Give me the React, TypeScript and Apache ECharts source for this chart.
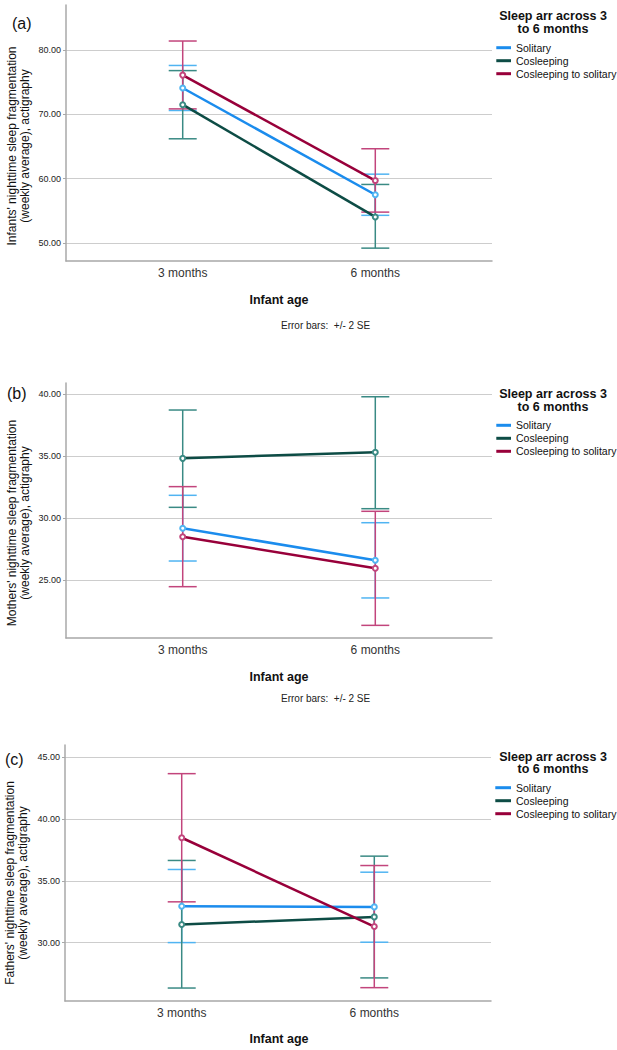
import React, { useEffect, useRef } from "react";
import * as echarts from "echarts";

// ---- data ----
const categories = ["3 months", "6 months"];
const xPositions = [1, 2];
const groupNames = ["Solitary", "Cosleeping", "Cosleeping to solitary"];

// (a) Infants
const infantSolitary = [74.1, 57.5];
const infantSolitaryLow = [70.6, 54.3];
const infantSolitaryHigh = [77.6, 60.7];
const infantCosleeping = [71.5, 54.05];
const infantCosleepingLow = [66.2, 49.2];
const infantCosleepingHigh = [76.8, 59.1];
const infantCoToSol = [76.1, 59.7];
const infantCoToSolLow = [70.85, 54.8];
const infantCoToSolHigh = [81.4, 64.65];
const infantTicks = [50, 60, 70, 80];

// (b) Mothers
const motherSolitary = [29.17, 26.59];
const motherSolitaryLow = [26.53, 23.55];
const motherSolitaryHigh = [31.83, 29.62];
const motherCosleeping = [34.81, 35.3];
const motherCosleepingLow = [30.86, 30.75];
const motherCosleepingHigh = [38.71, 39.78];
const motherCoToSol = [28.49, 25.94];
const motherCoToSolLow = [24.46, 21.34];
const motherCoToSolHigh = [32.53, 30.54];
const motherTicks = [25, 30, 35, 40];

// (c) Fathers
const fatherSolitary = [32.95, 32.89];
const fatherSolitaryLow = [30.0, 30.03];
const fatherSolitaryHigh = [35.92, 35.7];
const fatherCosleeping = [31.46, 32.08];
const fatherCosleepingLow = [26.32, 27.14];
const fatherCosleepingHigh = [36.65, 37.0];
const fatherCoToSol = [38.49, 31.3];
const fatherCoToSolLow = [33.3, 26.35];
const fatherCoToSolHigh = [43.68, 36.24];
const fatherTicks = [30, 35, 40, 45];

// ---- styles ----
const lineColors = ["#1b8ced", "#0d4c45", "#98003a"];
const barColors = ["#50b4f2", "#3a8a84", "#c2457c"];
const FONT = "'Liberation Sans', Arial, sans-serif";
const AXIS_COLOR = "#a8a8a8";
const GRID_COLOR = "#cdcdcd";

const panels = [
  {
    label: "(a)",
    labelPos: [12, 23],
    top: 5,
    bottom: 261,
    left: 66,
    right: 492,
    yMin: 47.2,
    yMax: 87.0,
    ticks: infantTicks,
    means: [infantSolitary, infantCosleeping, infantCoToSol],
    lows: [infantSolitaryLow, infantCosleepingLow, infantCoToSolLow],
    highs: [infantSolitaryHigh, infantCosleepingHigh, infantCoToSolHigh],
    yTitle: "Infants' nighttime sleep fragmentation\n(weekly average), actigraphy",
    yTitlePos: [18.5, 146],
    legendTitleY: 22.3,
    legendTop: 41.2,
    xTitleY: 300,
    noteY: 325.5,
  },
  {
    label: "(b)",
    labelPos: [7, 393],
    top: 383,
    bottom: 638,
    left: 66,
    right: 492,
    yMin: 20.32,
    yMax: 40.89,
    ticks: motherTicks,
    means: [motherSolitary, motherCosleeping, motherCoToSol],
    lows: [motherSolitaryLow, motherCosleepingLow, motherCoToSolLow],
    highs: [motherSolitaryHigh, motherCosleepingHigh, motherCoToSolHigh],
    yTitle: "Mothers' nighttime sleep fragmentation\n(weekly average), actigraphy",
    yTitlePos: [18.5, 523],
    legendTitleY: 400.3,
    legendTop: 418.8,
    xTitleY: 677,
    noteY: 698,
  },
  {
    label: "(c)",
    labelPos: [5, 759],
    top: 745,
    bottom: 1001,
    left: 65,
    right: 491,
    yMin: 25.27,
    yMax: 46.0,
    ticks: fatherTicks,
    means: [fatherSolitary, fatherCosleeping, fatherCoToSol],
    lows: [fatherSolitaryLow, fatherCosleepingLow, fatherCoToSolLow],
    highs: [fatherSolitaryHigh, fatherCosleepingHigh, fatherCoToSolHigh],
    yTitle: "Fathers' nighttime sleep fragmentation\n(weekly average), actigraphy",
    yTitlePos: [16.5, 883],
    legendTitleY: 762.9,
    legendTop: 781.2,
    xTitleY: 1039,
    noteY: null as number | null,
  },
];

const W = 617;
const H = 1050;

function buildOption() {
  const grid: any[] = [];
  const xAxis: any[] = [];
  const yAxis: any[] = [];
  const series: any[] = [];
  const legend: any[] = [];
  const graphic: any[] = [];

  panels.forEach((p, pi) => {
    grid.push({
      show: false,
      left: p.left,
      top: p.top,
      width: p.right - p.left,
      height: p.bottom - p.top,
      containLabel: false,
    });
    xAxis.push({
      type: "value",
      gridIndex: pi,
      min: 0.394,
      max: 2.606,
      axisLine: { show: true, onZero: false, lineStyle: { color: AXIS_COLOR, width: 1.5 } },
      axisTick: { show: false },
      splitLine: { show: false },
      axisLabel: {
        customValues: xPositions,
        formatter: (v: number) => categories[xPositions.indexOf(Math.round(v))] ?? "",
        fontFamily: FONT,
        fontSize: 12,
        color: "#333",
        margin: 6,
      },
    });
    yAxis.push({
      type: "value",
      gridIndex: pi,
      position: "left",
      min: p.yMin,
      max: p.yMax,
      axisLine: { show: true, onZero: false, lineStyle: { color: AXIS_COLOR, width: 1.5 } },
      axisTick: { show: true, customValues: p.ticks, length: 3, lineStyle: { color: AXIS_COLOR } },
      splitLine: { show: true, lineStyle: { color: GRID_COLOR, width: 1, type: "solid" } },
      axisLabel: {
        customValues: p.ticks,
        formatter: (v: number) => v.toFixed(2),
        fontFamily: FONT,
        fontSize: 9,
        color: "#222",
        margin: 5,
      },
    });

    // error bars (+/- 2 SE)
    groupNames.forEach((g, gi) => {
      series.push({
        type: "custom",
        name: g + " SE " + pi,
        xAxisIndex: pi,
        yAxisIndex: pi,
        z: 2,
        silent: true,
        data: xPositions.map((x, i) => [x, p.lows[gi][i], p.highs[gi][i]]),
        encode: { x: 0, y: [1, 2] },
        renderItem: (params: any, api: any) => {
          const x = api.value(0);
          const lo = api.coord([x, api.value(1)]);
          const hi = api.coord([x, api.value(2)]);
          const hw = 14;
          const style = { stroke: barColors[gi], lineWidth: 1.5 };
          return {
            type: "group",
            children: [
              { type: "line", shape: { x1: lo[0], y1: lo[1], x2: hi[0], y2: hi[1] }, style },
              { type: "line", shape: { x1: lo[0] - hw, y1: lo[1], x2: lo[0] + hw, y2: lo[1] }, style },
              { type: "line", shape: { x1: hi[0] - hw, y1: hi[1], x2: hi[0] + hw, y2: hi[1] }, style },
            ],
          };
        },
      });
    });

    // mean lines
    groupNames.forEach((g, gi) => {
      series.push({
        type: "line",
        name: g,
        xAxisIndex: pi,
        yAxisIndex: pi,
        z: 3,
        data: xPositions.map((x, i) => [x, p.means[gi][i]]),
        symbol: "emptyCircle",
        symbolSize: 5,
        showSymbol: true,
        itemStyle: { color: barColors[gi], borderWidth: 1.2 },
        lineStyle: { color: lineColors[gi], width: 2.5 },
        emphasis: { disabled: true },
      });
    });

    legend.push({
      orient: "vertical",
      left: 493,
      top: p.legendTop,
      icon: "rect",
      itemWidth: 18,
      itemHeight: 3,
      itemGap: 0,
      padding: 0,
      selectedMode: false,
      textStyle: { fontFamily: FONT, fontSize: 10.5, color: "#111", lineHeight: 13 },
      data: groupNames.map((g, gi) => ({ name: g, itemStyle: { color: lineColors[gi] } })),
    });

    graphic.push(
      // keep the plot's right side open (no frame line), as in the original
      {
        type: "rect",
        z: 50,
        silent: true,
        shape: { x: p.right + 0.3, y: p.top - 2, width: 4, height: p.bottom - p.top },
        style: { fill: "#ffffff" },
      },
      {
        type: "text",
        x: p.labelPos[0],
        y: p.labelPos[1],
        style: {
          text: p.label,
          fontFamily: FONT,
          fontSize: 16,
          fill: "#111",
          textAlign: "left",
          textVerticalAlign: "middle",
        },
      },
      {
        type: "text",
        x: p.yTitlePos[0],
        y: p.yTitlePos[1],
        rotation: Math.PI / 2,
        style: {
          text: p.yTitle,
          fontFamily: FONT,
          fontSize: 12,
          lineHeight: 13.5,
          fill: "#111",
          textAlign: "center",
          textVerticalAlign: "middle",
        },
      },
      {
        type: "text",
        x: 553,
        y: p.legendTitleY,
        style: {
          text: "Sleep arr across 3\nto 6 months",
          fontFamily: FONT,
          fontSize: 12.5,
          fontWeight: "bold",
          lineHeight: 12.7,
          fill: "#111",
          textAlign: "center",
          textVerticalAlign: "middle",
        },
      },
      {
        type: "text",
        x: 279,
        y: p.xTitleY,
        style: {
          text: "Infant age",
          fontFamily: FONT,
          fontSize: 12.5,
          fontWeight: "bold",
          fill: "#111",
          textAlign: "center",
          textVerticalAlign: "middle",
        },
      }
    );
    if (p.noteY !== null) {
      graphic.push({
        type: "text",
        x: 281,
        y: p.noteY,
        style: {
          text: "Error bars:  +/- 2 SE",
          fontFamily: FONT,
          fontSize: 10,
          fill: "#222",
          textAlign: "left",
          textVerticalAlign: "middle",
        },
      });
    }
  });

  return {
    animation: false,
    backgroundColor: "#ffffff",
    textStyle: { fontFamily: FONT },
    grid,
    xAxis,
    yAxis,
    legend,
    series,
    graphic,
  };
}

export default function App() {
  const ref = useRef<HTMLDivElement>(null);
  useEffect(() => {
    document.body.style.margin = "0";
    if (!ref.current) return;
    const chart = echarts.init(ref.current, undefined, { renderer: "svg" });
    chart.setOption(buildOption() as any);
    return () => {
      chart.dispose();
    };
  }, []);
  return <div ref={ref} style={{ width: W, height: H }} />;
}
